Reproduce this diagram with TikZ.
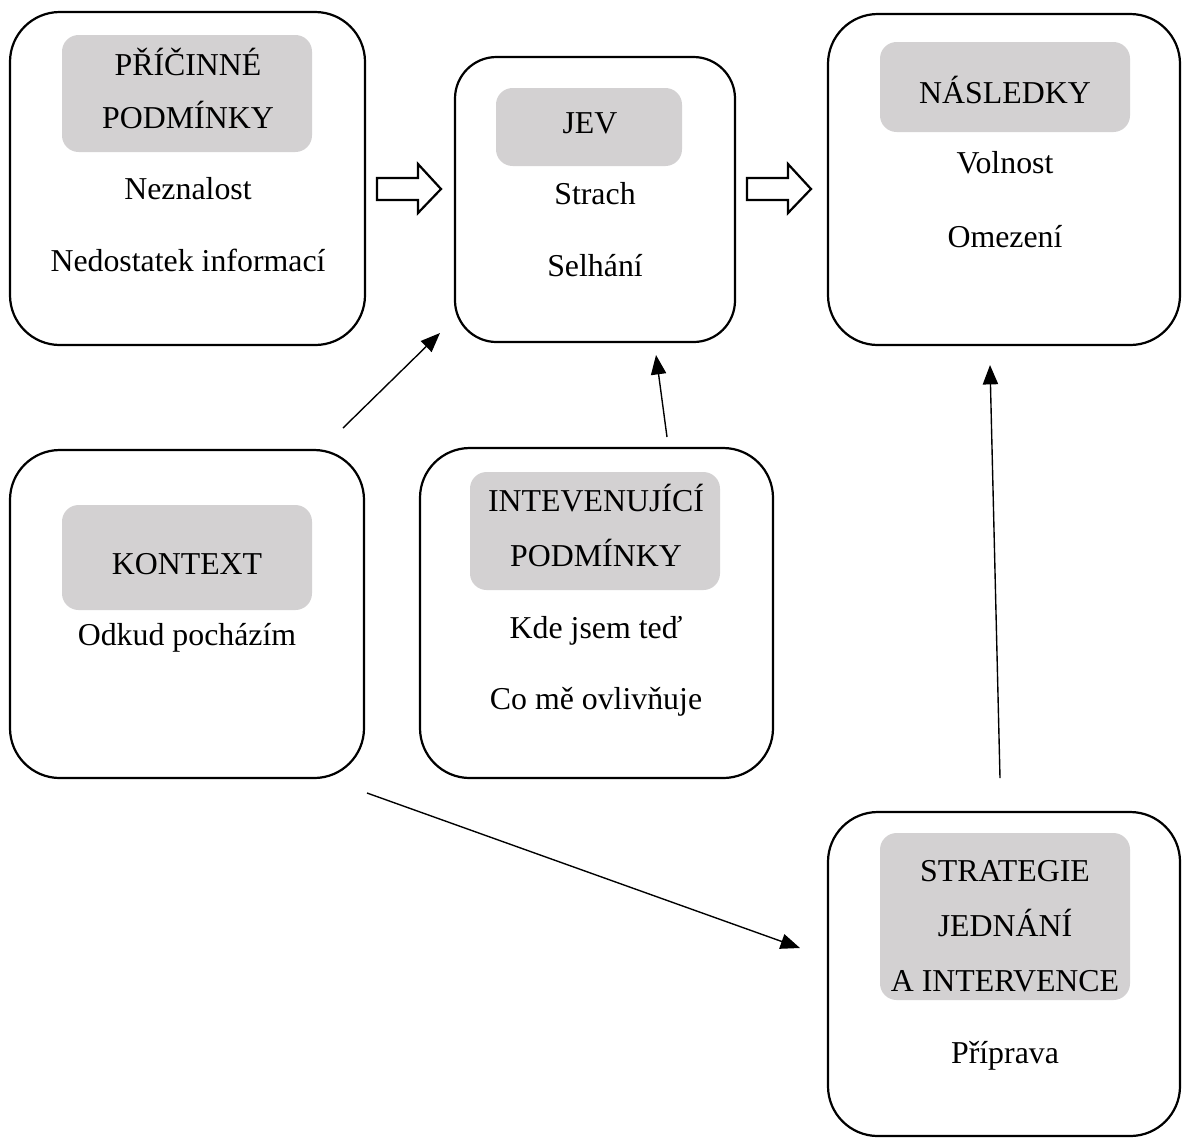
\documentclass[tikz,border=0pt]{standalone}
\usepackage{fontspec}
\setmainfont{Liberation Serif}
\usetikzlibrary{fit, arrows.meta}
\definecolor{headgray}{RGB}{211,209,210}

\begin{document}
\begin{tikzpicture}[x=0.0127cm, y=-0.0127cm,
    box/.style={draw, line width=0.8pt, rounded corners=18pt, inner sep=0pt},
    head/.style={fill=headgray, rounded corners=6pt, inner sep=0pt},
    txt/.style={anchor=base, inner sep=0pt, font=\fontsize{11.5}{14}\selectfont},
    link/.style={-{Triangle[length=7pt, width=5.5pt]}, line width=0.5pt}]
    \useasboundingbox (0,0) rectangle (1182,1138);

    % boxes
    \node[box, fit={(10,12) (365,345)}] (cause) {};
    \node[box, rounded corners=15pt, fit={(455,57) (735,342)}] (jev) {};
    \node[box, fit={(828,14) (1180,345)}] (cons) {};
    \node[box, fit={(10,450) (364,778)}] (ctx) {};
    \node[box, fit={(420,448) (773,778)}] (inter) {};
    \node[box, fit={(828,812) (1180,1136)}] (strat) {};

    % grey headers
    \node[head, fit={(62,35) (312,152)}] (causeH) {};
    \node[head, fit={(496,88) (682,166)}] (jevH) {};
    \node[head, fit={(880,42) (1130,132)}] (consH) {};
    \node[head, fit={(62,505) (312,610)}] (ctxH) {};
    \node[head, fit={(470,472) (720,590)}] (interH) {};
    \node[head, fit={(880,833) (1130,1000)}] (stratH) {};

    % texts
    \node[txt] (cause1) at (188,75) {PŘÍČINNÉ};
    \node[txt] (cause2) at (188,128) {PODMÍNKY};
    \node[txt] (cause3) at (188,199) {Neznalost};
    \node[txt] (cause4) at (188,271) {Nedostatek informací};
    \node[txt] (jev1) at (590,133) {JEV};
    \node[txt] (jev2) at (595,204) {Strach};
    \node[txt] (jev3) at (595,276) {Selhání};
    \node[txt] (cons1) at (1005,103) {NÁSLEDKY};
    \node[txt] (cons2) at (1005,173) {Volnost};
    \node[txt] (cons3) at (1005,247) {Omezení};
    \node[txt] (ctx1) at (187,574) {KONTEXT};
    \node[txt] (ctx2) at (187,645) {Odkud pocházím};
    \node[txt] (inter1) at (596,511) {INTEVENUJÍCÍ};
    \node[txt] (inter2) at (596,566) {PODMÍNKY};
    \node[txt] (inter3) at (596,638) {Kde jsem teď};
    \node[txt] (inter4) at (596,709) {Co mě ovlivňuje};
    \node[txt] (strat1) at (1005,881) {STRATEGIE};
    \node[txt] (strat2) at (1005,936) {JEDNÁNÍ};
    \node[txt] (strat3) at (1005,991) {A INTERVENCE};
    \node[txt] (strat4) at (1005,1063) {Příprava};

    % hollow arrows
    \foreach \x in {377, 747}
        \draw[line width=0.8pt] (\x,178) -- ({\x+41},178) -- ({\x+41},164) -- ({\x+64},189)
            -- ({\x+41},213) -- ({\x+41},200) -- (\x,200) -- cycle;

    % thin arrows
    \coordinate (k1) at (343,428);
    \coordinate (j1) at (440,333);
    \coordinate (i1) at (667,437);
    \coordinate (j2) at (656,355);
    \coordinate (k2) at (367,793);
    \coordinate (s1) at (800,948);
    \coordinate (s2) at (1000,778);
    \coordinate (n1) at (990,365);
    \draw[link] (k1) -- (j1);
    \draw[link] (i1) -- (j2);
    \draw[link] (k2) -- (s1);
    \draw[link] (s2) -- (n1);
\end{tikzpicture}
\end{document}
